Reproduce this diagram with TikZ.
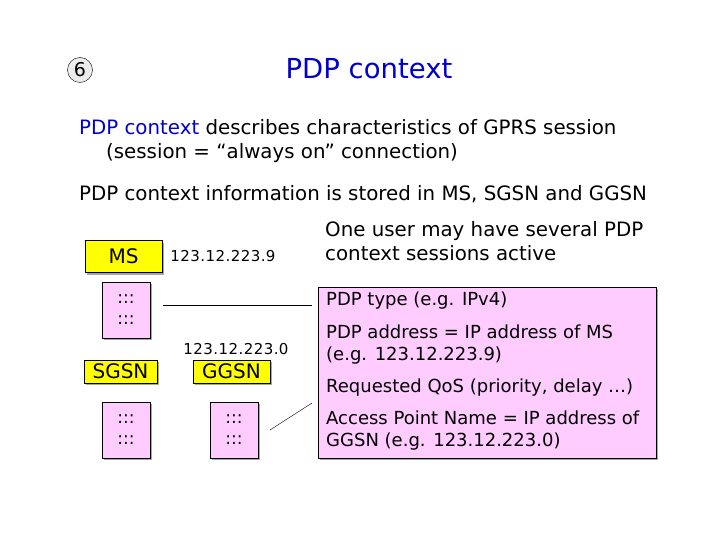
\documentclass[tikz,border=0pt]{standalone}
\usepackage{fontspec}
\setmainfont{DejaVu Sans}
\usetikzlibrary{shadows}
\definecolor{tblue}{RGB}{0,0,204}
\definecolor{pinkf}{RGB}{255,204,255}
\definecolor{yell}{RGB}{255,255,0}
\tikzset{
 px/.style={x=1pt,y=-1pt},
 ybox/.style={draw,fill=yell,line width=0.6pt,drop shadow={shadow xshift=2pt,shadow yshift=-2pt,fill=gray!70,opacity=1},font=\fontsize{20}{22}\selectfont},
 pbox/.style={draw,fill=pinkf,line width=0.6pt,drop shadow={shadow xshift=2pt,shadow yshift=-2pt,fill=gray!70,opacity=1}},
 txt/.style={anchor=north west,inner sep=0pt,font=\fontsize{19.8}{24}\selectfont,align=left},
 btxt/.style={anchor=north west,inner sep=0pt,font=\fontsize{18}{22}\selectfont,align=left},
 ip/.style={inner sep=0pt,font=\fontsize{15}{17}\selectfont\addfontfeatures{LetterSpace=3}},
 dots/.style={inner sep=0pt,font=\fontsize{17}{17}\selectfont,align=center}
}
\begin{document}
\begin{tikzpicture}[px]
\useasboundingbox (0,0) rectangle (720,540);
\node[draw,circle,fill=gray!15,inner sep=1pt,minimum size=25pt,font=\fontsize{19}{21}\selectfont] (num) at (80,70) {6};
\node[text=tblue,font=\fontsize{27.5}{30}\selectfont] (title) at (369,69) {PDP context};
\node[txt] (t1) at (79,119) {\textcolor{tblue}{PDP context} describes characteristics of GPRS session\\\hspace{27pt}(session = “always on” connection)};
\node[txt] (t2) at (79,185) {PDP context information is stored in MS, SGSN and GGSN};
\node[txt] (t3) at (325,221) {One user may have several PDP\\context sessions active};
\node[ybox,minimum width=77pt,minimum height=32pt] (ms) at (123.5,256.5) {MS};
\node[ybox,minimum width=73pt,minimum height=23pt] (sgsn) at (120.5,371.5) {SGSN};
\node[ybox,minimum width=77pt,minimum height=23pt] (ggsn) at (231.5,371.5) {GGSN};
\node[ip] (ip1) at (223,256) {123.12.223.9};
\node[ip] (ip2) at (236,349) {123.12.223.0};
\node[pbox,minimum width=48pt,minimum height=56pt] (p1) at (126,310) {};
\node[dots] at (p1) {:::\\[4pt]:::};
\node[pbox,minimum width=48pt,minimum height=56pt] (p2) at (126,430) {};
\node[dots] at (p2) {:::\\[4pt]:::};
\node[pbox,minimum width=48pt,minimum height=56pt] (p3) at (234,430) {};
\node[dots] at (p3) {:::\\[4pt]:::};
\node[pbox,minimum width=338pt,minimum height=171pt] (big) at (487,372.5) {};
\node[btxt] (b1) at (326,292) {PDP type (e.g. IPv4)};
\node[btxt] (b2) at (326,325) {PDP address = IP address of MS\\(e.g. 123.12.223.9)};
\node[btxt] (b3) at (326,379) {Requested QoS (priority, delay …)};
\node[btxt] (b4) at (326,411) {Access Point Name = IP address of\\GGSN (e.g. 123.12.223.0)};
\coordinate (c1) at (312,305);
\coordinate (c2) at (312,403);
\draw (163,305) -- (c1);
\draw (270,430) -- (c2);
\end{tikzpicture}
\end{document}
